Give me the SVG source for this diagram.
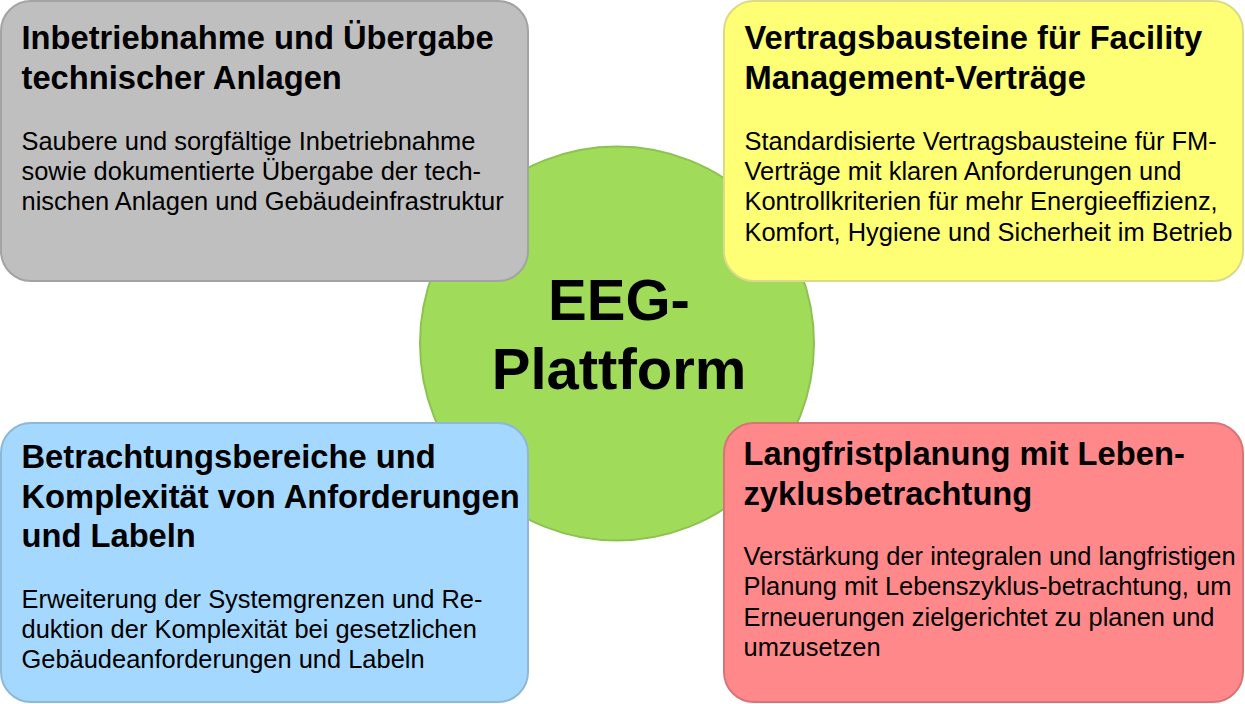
<svg xmlns="http://www.w3.org/2000/svg" width="1245" height="704" viewBox="0 0 1245 704">
<style>
.box{stroke-width:2}
.t{font-family:"Liberation Sans",Arial,sans-serif;font-weight:bold;font-size:32.7px;fill:#000}
.b{font-family:"Liberation Sans",Arial,sans-serif;font-size:25.45px;fill:#000}
.c{font-family:"Liberation Sans",Arial,sans-serif;font-weight:bold;font-size:58px;fill:#000;text-anchor:middle}
</style>
<rect width="1245" height="704" fill="#ffffff"/>
<g id="center">
<circle cx="617" cy="343.5" r="197" fill="#A0DC5A" stroke="#8DC250" stroke-width="2"/>
<text class="c" x="619" y="320">EEG-</text>
<text class="c" x="619" y="389">Plattform</text>
</g>
<g id="gray">
<rect class="box" x="1" y="1" width="527" height="280" rx="30" fill="#BFBFBF" stroke="#A3A3A3"/>
<text class="t" x="21.5" y="49"><tspan x="21.5">Inbetriebnahme und Übergabe</tspan><tspan x="21.5" y="89">technischer Anlagen</tspan></text>
<text class="b" x="21.5" y="149.5"><tspan x="21.5">Saubere und sorgfältige Inbetriebnahme</tspan><tspan x="21.5" y="179.8">sowie dokumentierte Übergabe der tech-</tspan><tspan x="21.5" y="210.2">nischen Anlagen und Gebäudeinfrastruktur</tspan></text>
</g>
<g id="yellow">
<rect class="box" x="724" y="1" width="519" height="280" rx="30" fill="#FFFF75" stroke="#DADA8A"/>
<text class="t" x="744.5" y="49"><tspan x="744.5">Vertragsbausteine für Facility</tspan><tspan x="744.5" y="89">Management-Verträge</tspan></text>
<text class="b" x="744.5" y="149.5"><tspan x="744.5">Standardisierte Vertragsbausteine für FM-</tspan><tspan x="744.5" y="179.8">Verträge mit klaren Anforderungen und</tspan><tspan x="744.5" y="210.2">Kontrollkriterien für mehr Energieeffizienz,</tspan><tspan x="744.5" y="240.5">Komfort, Hygiene und Sicherheit im Betrieb</tspan></text>
</g>
<g id="blue">
<rect class="box" x="1" y="423" width="527" height="279" rx="30" fill="#A5D8FF" stroke="#8DB8D8"/>
<text class="t" x="21.5" y="468.3"><tspan x="21.5">Betrachtungsbereiche und</tspan><tspan x="21.5" y="507.5">Komplexität von Anforderungen</tspan><tspan x="21.5" y="546.5">und Labeln</tspan></text>
<text class="b" x="21.5" y="607.5"><tspan x="21.5">Erweiterung der Systemgrenzen und Re-</tspan><tspan x="21.5" y="637.5">duktion der Komplexität bei gesetzlichen</tspan><tspan x="21.5" y="667.5">Gebäudeanforderungen und Labeln</tspan></text>
</g>
<g id="red">
<rect class="box" x="724" y="423" width="519" height="279" rx="30" fill="#FF888A" stroke="#D87478"/>
<text class="t" x="743.5" y="465"><tspan x="743.5">Langfristplanung mit Leben-</tspan><tspan x="743.5" y="504.5">zyklusbetrachtung</tspan></text>
<text class="b" x="743.5" y="564.5"><tspan x="743.5">Verstärkung der integralen und langfristigen</tspan><tspan x="743.5" y="595">Planung mit Lebenszyklus-betrachtung, um</tspan><tspan x="743.5" y="625.5">Erneuerungen zielgerichtet zu planen und</tspan><tspan x="743.5" y="656">umzusetzen</tspan></text>
</g>
<g id="connectors"></g>
</svg>
